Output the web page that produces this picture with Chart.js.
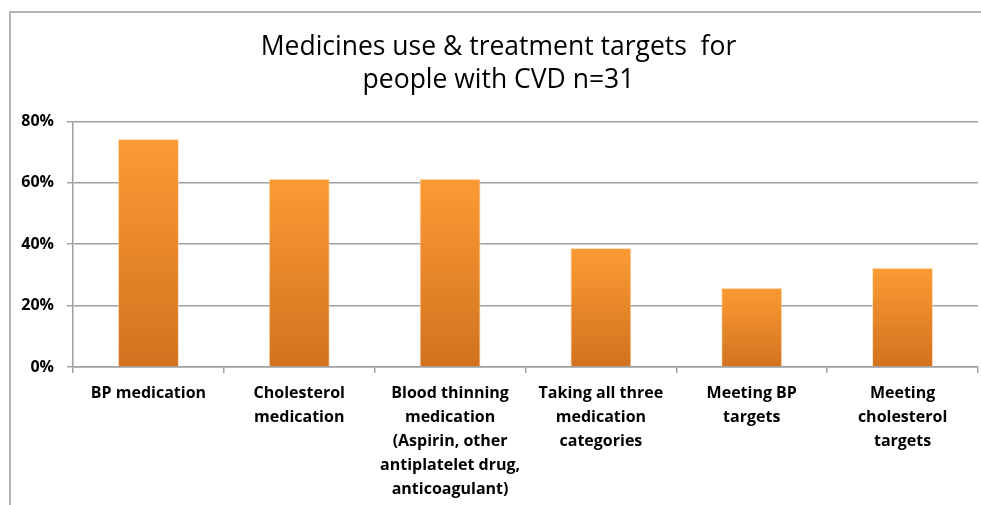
<!DOCTYPE html>
<html>
<head>
<meta charset="utf-8">
<script src="https://cdn.jsdelivr.net/npm/chart.js@4"></script>
<style>
	html, body { margin: 0; padding: 0; background: #fff; }
	#frame {
		position: absolute; left: 9px; top: 11px; width: 972px; height: 494px;
		border-left: 2px solid #b4b4b4; border-top: 2px solid #b4b4b4;
	}
	#wrap { position: absolute; left: 0; top: 0; width: 981px; height: 505px; }
</style>
</head>
<body>
<div id="frame"></div>
<div id="wrap"><canvas id="chart" width="981" height="505"></canvas></div>
<script>
// categories (multi-line, as in the picture)
var categories = [
	['BP medication'],
	['Cholesterol', 'medication'],
	['Blood thinning', 'medication', '(Aspirin, other', 'antiplatelet drug,', 'anticoagulant)'],
	['Taking all three', 'medication', 'categories'],
	['Meeting BP', 'targets'],
	['Meeting', 'cholesterol', 'targets']
]

// percentages of people with CVD (n=31)
var values = [74.2, 61.3, 61.3, 38.7, 25.8, 32.3]

var yTicks = [0, 20, 40, 60, 80]

var titleLines = ['Medicines use & treatment targets  for', 'people with CVD n=31']

// gradient per bar: light at top, dark at base
function barGradient (context) {
	var chart = context.chart
	var y = chart.scales.y
	if (!chart.chartArea || !y || context.dataIndex === undefined) return '#ef8a2e'
	var top = y.getPixelForValue(values[context.dataIndex])
	var base = y.getPixelForValue(0)
	var g = chart.ctx.createLinearGradient(0, top, 0, base)
	g.addColorStop(0, '#fb9b34')
	g.addColorStop(1, '#d2721f')
	return g
}

var ctx = document.getElementById('chart').getContext('2d')

var chart = new Chart(ctx, {
	type: 'bar',
	data: {
		labels: categories,
		datasets: [{
			data: values,
			backgroundColor: barGradient,
			borderColor: 'rgba(255, 214, 170, 0.7)',
			borderWidth: 1,
			barPercentage: 1,
			categoryPercentage: 0.405
		}]
	},
	options: {
		responsive: false,
		animation: false,
		layout: {
			padding: { left: 19, right: 3, top: 31, bottom: 0 }
		},
		plugins: {
			legend: { display: false },
			tooltip: { enabled: false },
			title: {
				display: true,
				text: titleLines,
				color: '#000',
				font: { family: 'Open Sans', size: 26.5, weight: 'normal', lineHeight: 1.25 },
				padding: { top: 0, bottom: 24 }
			}
		},
		scales: {
			x: {
				grid: {
					offset: true,
					drawOnChartArea: false,
					drawTicks: true,
					tickLength: 6,
					color: '#a0a0a0',
					lineWidth: 1.5
				},
				border: { color: '#a0a0a0', width: 1.5 },
				ticks: {
					color: '#000',
					font: { family: 'Open Sans', size: 16, weight: 'bold', lineHeight: 1.5 },
					padding: 8,
					maxRotation: 0,
					autoSkip: false
				},
				afterFit: function (scale) { scale.height = 138 }
			},
			y: {
				min: 0,
				max: 80,
				afterBuildTicks: function (scale) {
					scale.ticks = yTicks.map(v => ({ value: v }))
				},
				grid: {
					color: '#a0a0a0',
					lineWidth: 1.5,
					tickLength: 6
				},
				border: { color: '#a0a0a0', width: 1.5 },
				ticks: {
					color: '#000',
					font: { family: 'Open Sans', size: 16, weight: 'bold' },
					padding: 13,
					callback: v => v + '%'
				},
				afterFit: function (scale) { scale.width = 54 }
			}
		}
	}
})
</script>
</body>
</html>
